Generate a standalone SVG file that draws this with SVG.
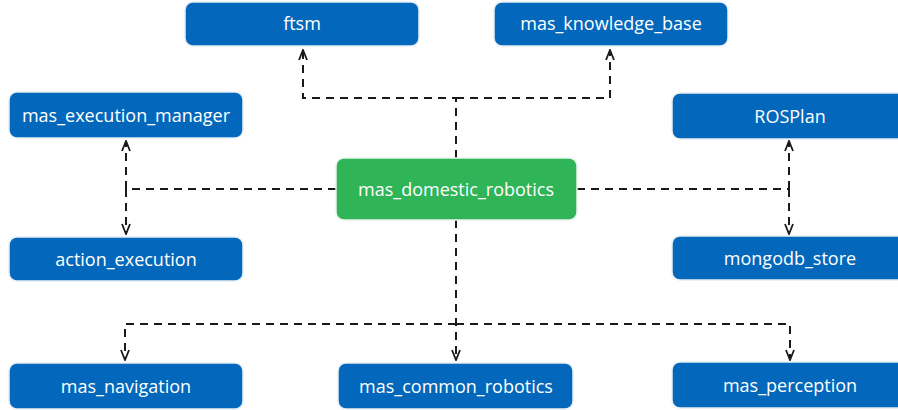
<svg xmlns="http://www.w3.org/2000/svg" width="898" height="410" viewBox="0 0 898 410">
<defs>
<marker id="arr" viewBox="0 0 12 12" refX="11" refY="6" markerWidth="12" markerHeight="12" markerUnits="userSpaceOnUse" orient="auto-start-reverse">
<polyline points="1,2 11,6 1,10" fill="none" stroke="#1a1a1a" stroke-width="1.8"/>
</marker>
<style>
.n rect{fill:#0368bb;stroke:#e8eef5;stroke-width:1.5}
.g rect{fill:#2fb457;stroke:#e8f5ec;stroke-width:1.5}
text{font-family:"Open Sans","Noto Sans","DejaVu Sans",sans-serif;font-size:18px;fill:#ffffff;text-anchor:middle;dominant-baseline:central}
.c path{fill:none;stroke:#1a1a1a;stroke-width:2;stroke-dasharray:8 6}
</style>
</defs>
<rect width="898" height="410" fill="#ffffff"/>
<g class="c" id="connectors">
<path d="M456,158 V98 H303 V50" marker-end="url(#arr)"/>
<path d="M456,98 H610 V50" marker-end="url(#arr)"/>
<path d="M336,189 H126"/>
<path d="M126,189 V141" marker-end="url(#arr)"/>
<path d="M126,189 V234" marker-end="url(#arr)"/>
<path d="M577,189 H789"/>
<path d="M789,189 V141" marker-end="url(#arr)"/>
<path d="M789,189 V234" marker-end="url(#arr)"/>
<path d="M456,220 V360" marker-end="url(#arr)"/>
<path d="M456,324 H125 V360" marker-end="url(#arr)"/>
<path d="M456,324 H790 V360" marker-end="url(#arr)"/>
</g>
<g class="n" id="ftsm"><rect x="185" y="2" width="234" height="44" rx="8"/><text x="302" y="23">ftsm</text></g>
<g class="n" id="mas_knowledge_base"><rect x="494" y="2" width="234" height="44" rx="8"/><text x="611" y="23">mas_knowledge_base</text></g>
<g class="n" id="mas_execution_manager"><rect x="9" y="92" width="234" height="46" rx="8"/><text x="126" y="115">mas_execution_manager</text></g>
<g class="n" id="action_execution"><rect x="9" y="237" width="234" height="44" rx="8"/><text x="126" y="259">action_execution</text></g>
<g class="g" id="mas_domestic_robotics"><rect x="336" y="158" width="241" height="62" rx="8"/><text x="456" y="189">mas_domestic_robotics</text></g>
<g class="n" id="ROSPlan"><rect x="672" y="93" width="236" height="46" rx="8"/><text x="790" y="116">ROSPlan</text></g>
<g class="n" id="mongodb_store"><rect x="672" y="236" width="236" height="44" rx="8"/><text x="790" y="258">mongodb_store</text></g>
<g class="n" id="mas_navigation"><rect x="9" y="363" width="234" height="46" rx="8"/><text x="126" y="386">mas_navigation</text></g>
<g class="n" id="mas_common_robotics"><rect x="338" y="363" width="235" height="46" rx="8"/><text x="456" y="386">mas_common_robotics</text></g>
<g class="n" id="mas_perception"><rect x="672" y="362" width="236" height="46" rx="8"/><text x="790" y="385">mas_perception</text></g>
</svg>
